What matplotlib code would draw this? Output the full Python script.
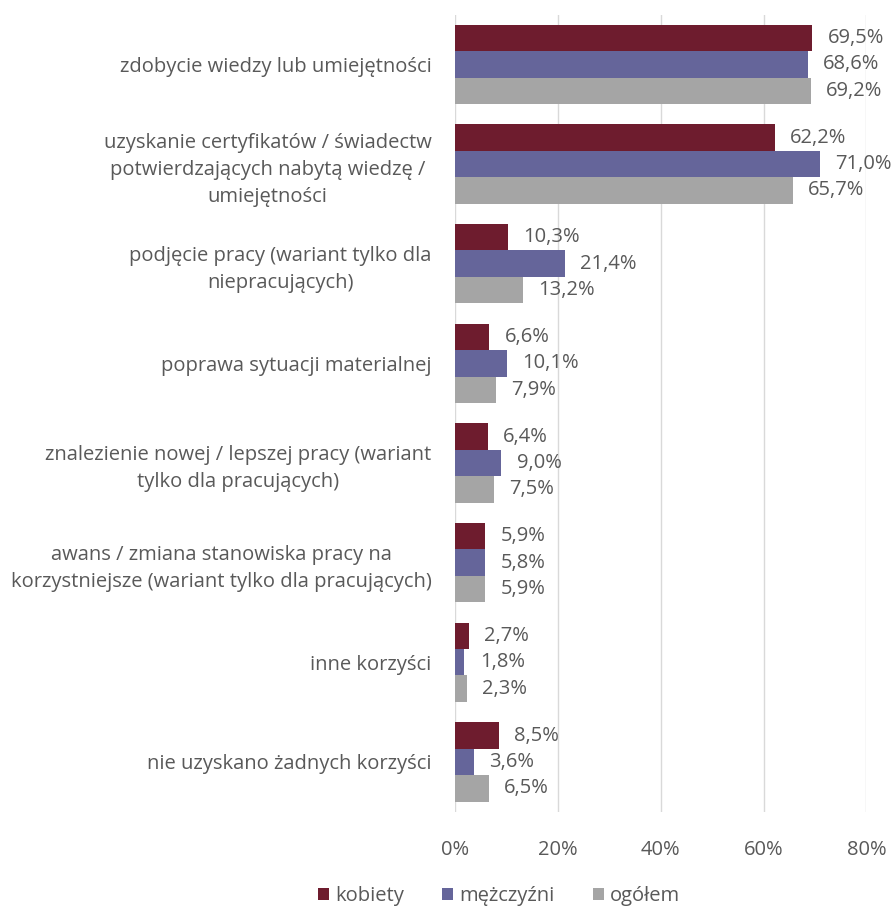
import matplotlib
matplotlib.use("Agg")
import matplotlib.pyplot as plt
import numpy as np

categories = [
    "zdobycie wiedzy lub umiejętności",
    "uzyskanie certyfikatów / świadectw\npotwierdzających nabytą wiedzę /\numiejętności",
    "podjęcie pracy (wariant tylko dla\nniepracujących)",
    "poprawa sytuacji materialnej",
    "znalezienie nowej / lepszej pracy (wariant\ntylko dla pracujących)",
    "awans / zmiana stanowiska pracy na\nkorzystniejsze (wariant tylko dla pracujących)",
    "inne korzyści",
    "nie uzyskano żadnych korzyści",
]
kobiety = [69.5, 62.2, 10.3, 6.6, 6.4, 5.9, 2.7, 8.5]
mezczyzni = [68.6, 71.0, 21.4, 10.1, 9.0, 5.8, 1.8, 3.6]
ogolem = [69.2, 65.7, 13.2, 7.9, 7.5, 5.9, 2.3, 6.5]

series = [("kobiety", kobiety, "#6e1c2e"),
          ("mężczyźni", mezczyzni, "#65659a"),
          ("ogółem", ogolem, "#a5a5a5")]

plt.rcParams['font.family'] = ['Open Sans', 'DejaVu Sans']
txt = "#595959"
fs = 14.5

fig = plt.figure(figsize=(8.96, 9.08), dpi=100)
ax = fig.add_axes([0.508, 0.106, 0.459, 0.878])

y = np.arange(len(categories))
h = 0.265
for i, (name, vals, col) in enumerate(series):
    pos = y - h + i * h
    rects = ax.barh(pos, vals, h, color=col, label=name, zorder=3)
    ax.bar_label(rects, labels=[f"{v:.1f}%".replace(".", ",") for v in vals],
                 padding=11, fontsize=fs, color=txt)

ax.set_ylim(len(categories) - 0.5, -0.5)
ax.set_xlim(0, 80)
ax.set_xticks([0, 20, 40, 60, 80])
ax.set_xticklabels(["0%", "20%", "40%", "60%", "80%"], fontsize=fs, color=txt)
ax.set_yticks(y)
ax.set_yticklabels(categories, fontsize=fs, color=txt, multialignment='center',
                   linespacing=1.45)
ax.tick_params(length=0, pad=17, axis='y')
ax.tick_params(length=0, pad=20, axis='x')
ax.grid(axis='x', color="#d9d9d9", linewidth=1, zorder=0)
for s in ax.spines.values():
    s.set_visible(False)

fig.legend(loc='lower center', bbox_to_anchor=(0.557, -0.018), ncols=3, frameon=False,
           fontsize=fs, labelcolor=txt, handlelength=0.55, handleheight=0.55,
           handletextpad=0.3, columnspacing=1.9)

fig.savefig("out.png", dpi=100)
